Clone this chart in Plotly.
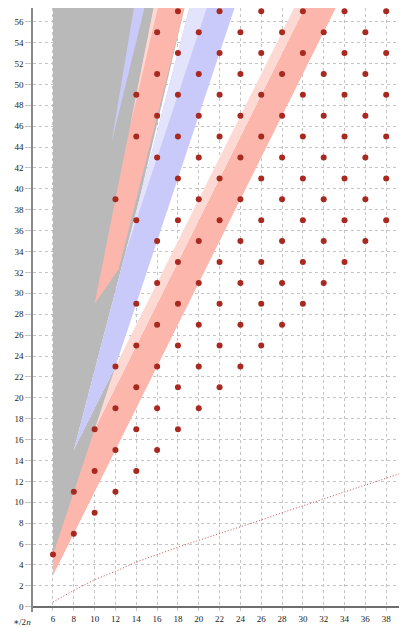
import plotly.graph_objects as go

# ---- axis ticks ----
x_tick_vals = [6, 8, 10, 12, 14, 16, 18, 20, 22, 24, 26, 28, 30, 32, 34, 36, 38, 40]
y_tick_vals = [0, 2, 4, 6, 8, 10, 12, 14, 16, 18, 20, 22, 24, 26, 28, 30, 32, 34, 36, 38, 40,
               42, 44, 46, 48, 50, 52, 54, 56]

# ---- dots (one list of y values per even n) ----
dots_n06 = [5]
dots_n08 = [7, 11]
dots_n10 = [9, 13, 17]
dots_n12 = [11, 15, 19, 23, 39]
dots_n14 = [13, 17, 21, 25, 29, 37, 45, 49]
dots_n16 = [15, 19, 23, 27, 31, 35, 43, 47, 51, 55]
dots_n18 = [17, 21, 25, 29, 33, 37, 41, 45, 49, 53, 57]
dots_n20 = [19, 23, 27, 31, 35, 39, 43, 47, 51, 55]
dots_n22 = [21, 25, 29, 33, 37, 41, 45, 49, 53, 57]
dots_n24 = [23, 27, 31, 35, 39, 43, 47, 51, 55]
dots_n26 = [25, 29, 33, 37, 41, 45, 49, 53, 57]
dots_n28 = [27, 31, 35, 39, 43, 47, 51, 55]
dots_n30 = [29, 33, 37, 41, 45, 49, 53, 57]
dots_n32 = [31, 35, 39, 43, 47, 51, 55]
dots_n34 = [33, 37, 41, 45, 49, 53, 57]
dots_n36 = [35, 39, 43, 47, 51, 55]
dots_n38 = [37, 41, 45, 49, 53, 57]
dots_n40 = [39, 43, 47, 51, 55]
dot_columns = [(6, dots_n06), (8, dots_n08), (10, dots_n10), (12, dots_n12), (14, dots_n14),
               (16, dots_n16), (18, dots_n18), (20, dots_n20), (22, dots_n22), (24, dots_n24),
               (26, dots_n26), (28, dots_n28), (30, dots_n30), (32, dots_n32), (34, dots_n34),
               (36, dots_n36), (38, dots_n38), (40, dots_n40)]

# ---- dotted lower curve ----
curve_n = [6, 8, 10, 12, 14, 16, 18, 20, 22, 24, 26, 28, 30, 32, 34, 36, 38, 40]
curve_y = [0.45, 1.57, 2.59, 3.39, 4.28, 5.0, 5.7, 6.36, 7.0, 7.64, 8.3, 9.0, 9.68,
           10.33, 11.0, 11.65, 12.3, 12.97]

# ---- shaded regions (polygon vertices in data coordinates) ----
pinkA_dark_n = [6, 33.25, 30.25, 6]
pinkA_dark_y = [3, 57.5, 57.5, 9]
pinkA_light_n = [6, 30.25, 29.25, 6]
pinkA_light_y = [9, 57.5, 57.5, 11]

gray_n = [6, 6, 18.67, 14.3, 8, 12, 6]
gray_y = [5, 57.5, 57.5, 39, 15, 23, 5]

pinkC_dark_n = [10.0, 15.7, 18.67, 12.3]
pinkC_dark_y = [29.0, 57.5, 57.5, 32.3]
pinkC_light_n = [13.4, 15.7, 16.11]
pinkC_light_y = [46.0, 57.5, 57.5]

blueD_n = [11.63, 13.8, 14.83]
blueD_y = [44.46, 57.5, 57.5]

blueB_dark_n = [8, 12, 23.5, 19.15]
blueB_dark_y = [15, 23, 57.5, 57.5]
blueB_light_n = [12.94, 20.83, 19.15]
blueB_light_y = [33.8, 57.5, 57.5]

PINK = '#fcb6ab'
PINK_L = '#fdd9d3'
BLUE = '#c9c9fa'
BLUE_L = '#e3e3fb'
GRAY = '#b9b9b9'
DOT = '#a8291f'

fig = go.Figure()


def region(xs, ys, color):
    fig.add_trace(go.Scatter(x=xs, y=ys, fill='toself', fillcolor=color, mode='lines',
                             line=dict(width=0, color=color), hoverinfo='skip',
                             showlegend=False))


region(pinkA_dark_n, pinkA_dark_y, PINK)
region(pinkA_light_n, pinkA_light_y, PINK_L)
region(gray_n, gray_y, GRAY)
region(pinkC_dark_n, pinkC_dark_y, PINK)
region(pinkC_light_n, pinkC_light_y, PINK_L)
region(blueD_n, blueD_y, BLUE)
region(blueB_dark_n, blueB_dark_y, BLUE)
region(blueB_light_n, blueB_light_y, BLUE_L)

fig.add_trace(go.Scatter(x=curve_n, y=curve_y, mode='lines',
                         line=dict(color='#c0504d', width=1, dash='1px,2px'),
                         hoverinfo='skip', showlegend=False))

dx, dy = [], []
for n, ys in dot_columns:
    for v in ys:
        dx.append(n)
        dy.append(v)
fig.add_trace(go.Scatter(x=dx, y=dy, mode='markers',
                         marker=dict(size=6, color=DOT, line=dict(width=0)),
                         hoverinfo='skip', showlegend=False))

font = dict(family='Liberation Serif, DejaVu Serif, serif', size=9, color='#222')

# the page body adds an 8px offset; the figure is sized to fill the 407x628 window
fig.update_layout(
    width=399, height=620,
    margin=dict(l=25, r=0, t=0, b=16),
    plot_bgcolor='white', paper_bgcolor='white',
    showlegend=False,
    font=font,
    xaxis=dict(range=[4.08, 40], tickvals=x_tick_vals, ticktext=[str(v) for v in x_tick_vals],
               showgrid=True, gridcolor='#c4c4c4', griddash='dot', gridwidth=1,
               zeroline=False, showline=False, ticks='', tickfont=font, automargin=False,
               ticklabeloverflow='allow', fixedrange=True),
    yaxis=dict(range=[-0.5, 57.31], tickvals=y_tick_vals, ticktext=[str(v) for v in y_tick_vals],
               showgrid=True, gridcolor='#c4c4c4', griddash='dot', gridwidth=1,
               zeroline=True, zerolinecolor='#6e6e6e', zerolinewidth=1.5,
               showline=True, linecolor='#8a8a8a', linewidth=1.5,
               ticks='outside', ticklen=6, tickcolor='#c4c4c4', tickwidth=1,
               tickfont=font, automargin=False, fixedrange=True),
    annotations=[dict(text='∗/2<i>n</i>', xref='paper', yref='paper', x=-0.03, y=-0.017,
                      xanchor='center', yanchor='middle', showarrow=False,
                      font=dict(family='Liberation Serif, DejaVu Serif, serif', size=9,
                                color='#222'))],
)

fig.write_html('out.html')
